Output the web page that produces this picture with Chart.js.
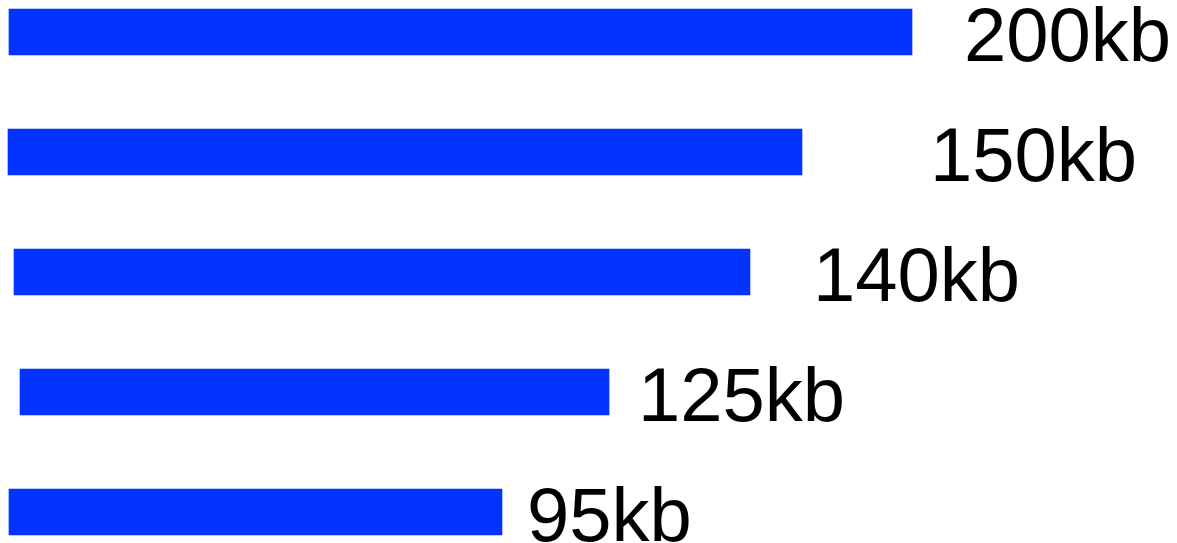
<!DOCTYPE html>
<html>
<head>
<meta charset="utf-8">
<script src="https://cdn.jsdelivr.net/npm/chart.js@4/dist/chart.umd.min.js"></script>
<style>
  html, body { margin: 0; padding: 0; background: #fff; }
  #wrap { width: 1177px; height: 543px; }
</style>
</head>
<body>
<div id="wrap"><canvas id="sizeChart"></canvas></div>
<script>
// values (x units = bar length as drawn)
const files = ['a', 'b', 'c', 'd', 'e'];
const sizeLabels = ['200kb', '150kb', '140kb', '125kb', '95kb'];
const barStart = [1, 0, 6, 12, 1];
const barEnd = [904, 794, 742, 601, 494];
const labelAt = [956, 922, 805, 630, 519];

// text next to each bar
const sizeText = {
    id: 'sizeText',
    afterDatasetsDraw(chart) {
        const ctx = chart.ctx;
        const x = chart.scales.x;
        const meta = chart.getDatasetMeta(0);
        ctx.save();
        ctx.fillStyle = '#000';
        ctx.font = '76px "Liberation Sans", Arial, sans-serif';
        ctx.textAlign = 'left';
        ctx.textBaseline = 'alphabetic';
        meta.data.forEach((bar, i) => {
            ctx.fillText(sizeLabels[i], x.getPixelForValue(labelAt[i]), bar.y + 29);
        });
        ctx.restore();
    }
};

new Chart(document.getElementById('sizeChart'), {
    type: 'bar',
    data: {
        labels: files,
        datasets: [{
            data: files.map((f, i) => [barStart[i], barEnd[i]]),
            backgroundColor: '#0433ff',
            borderWidth: 0,
            barThickness: 46,
            clip: false
        }]
    },
    options: {
        indexAxis: 'y',
        responsive: true,
        maintainAspectRatio: false,
        animation: false,
        layout: { padding: { left: 8, right: 0, top: 32, bottom: 31 } },
        plugins: {
            legend: { display: false },
            tooltip: { enabled: false }
        },
        scales: {
            x: { display: false, min: 0, max: 1169 },
            y: { display: false, offset: false }
        }
    },
    plugins: [sizeText]
});
</script>
</body>
</html>
